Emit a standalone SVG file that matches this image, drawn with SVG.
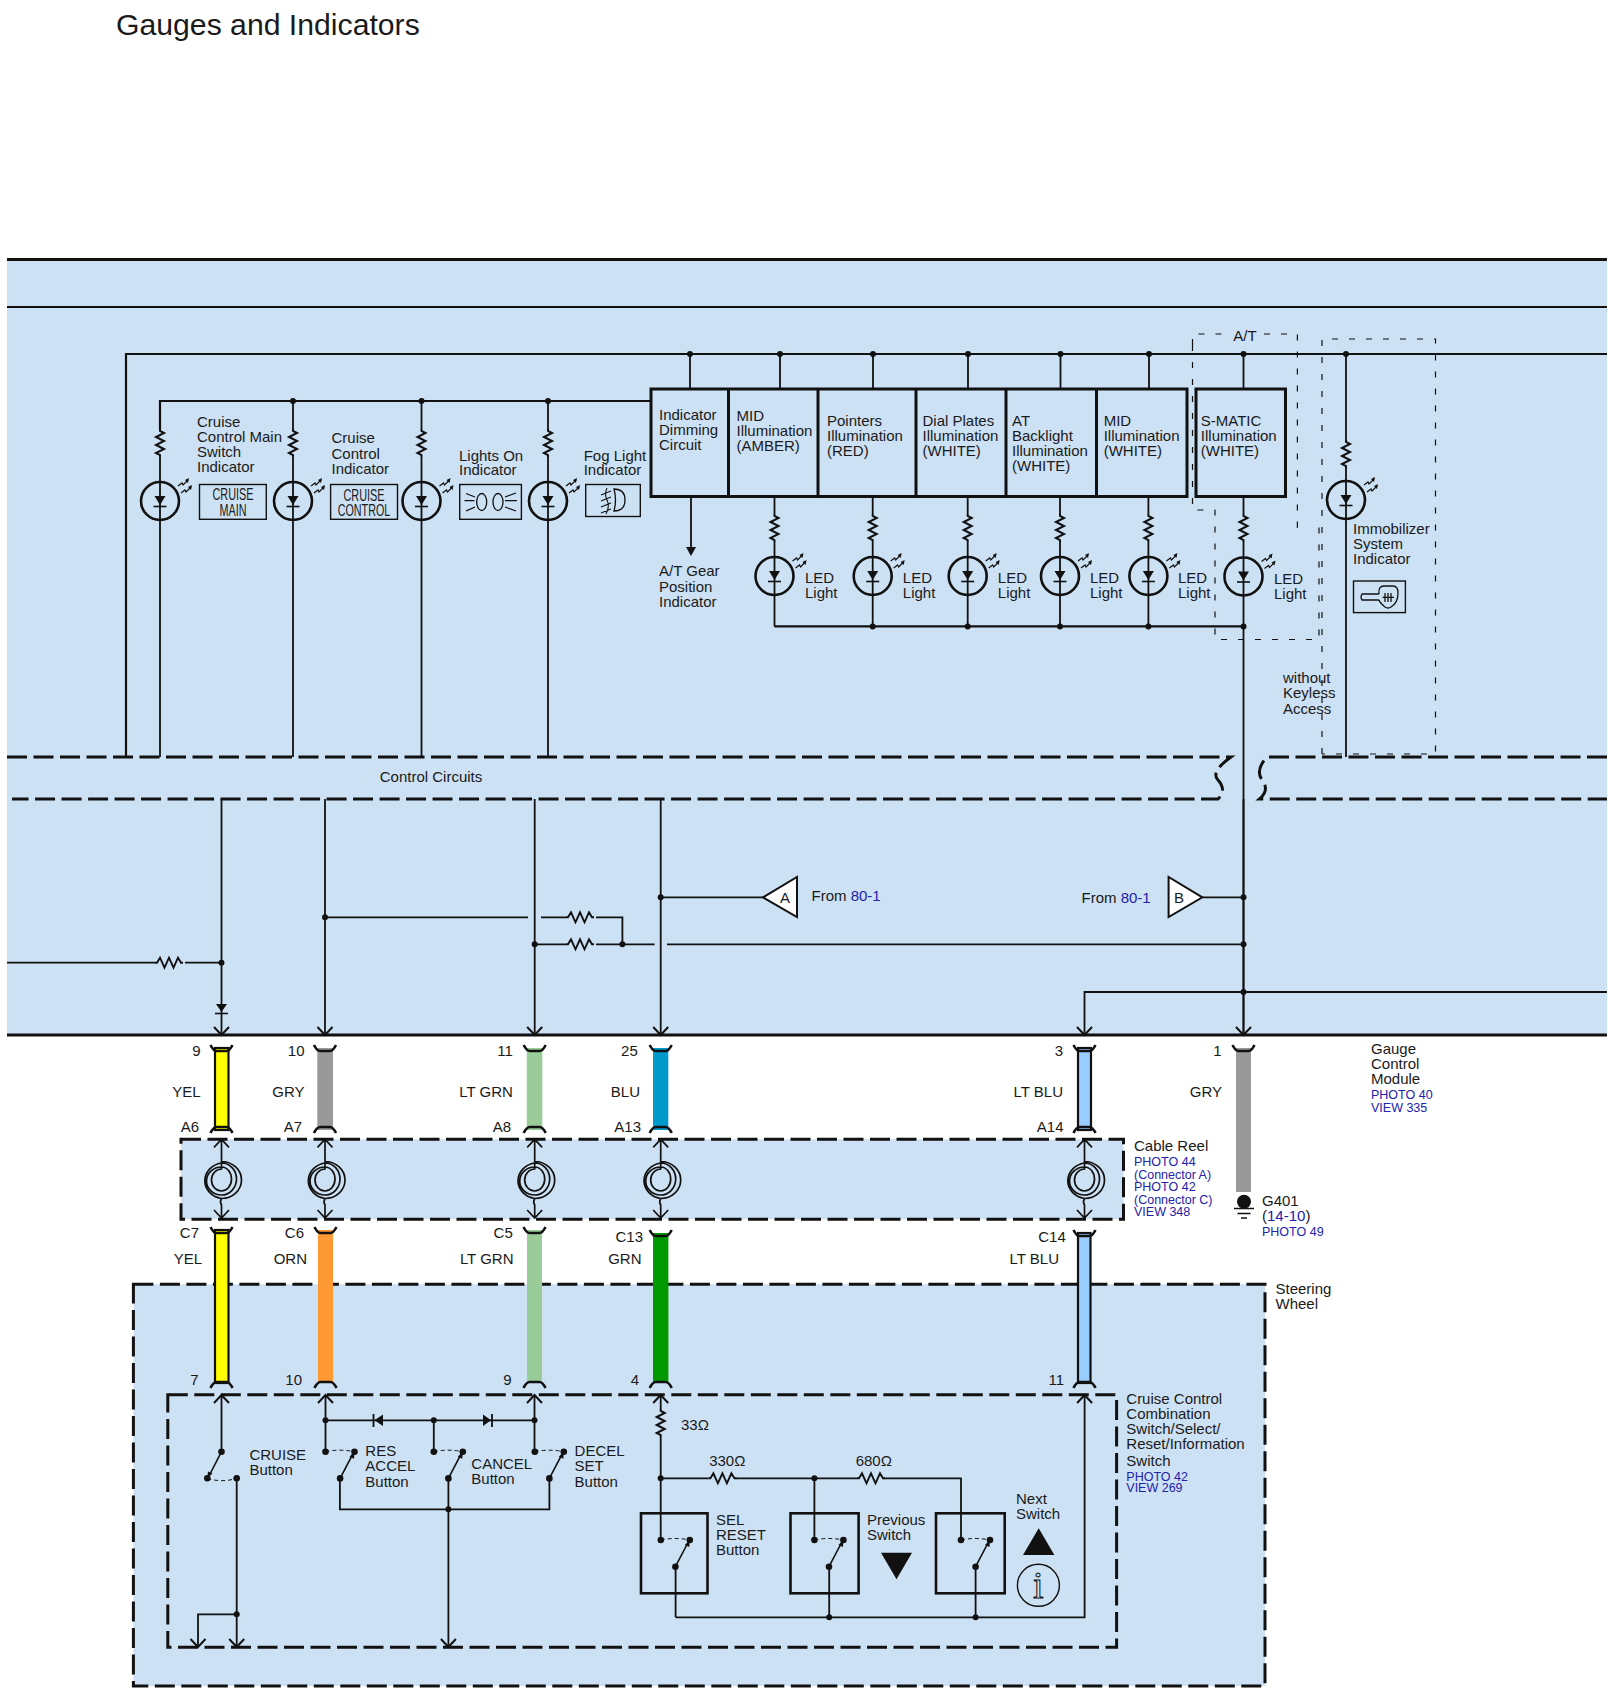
<svg xmlns="http://www.w3.org/2000/svg" xmlns:xlink="http://www.w3.org/1999/xlink" width="1614" height="1702" viewBox="0 0 1614 1702">
<style>
text{font-family:"Liberation Sans",Arial,sans-serif;font-size:15px;fill:#1a1a1a}
.blue,.blue tspan{font-size:12.5px;fill:#2222aa}
.lnk{fill:#2222aa}
.end{text-anchor:end}
.mid{text-anchor:middle}
.w{fill:none;stroke:#111;stroke-width:1.8}
.th{fill:none;stroke:#111;stroke-width:2.2}
.dash{fill:none;stroke:#111;stroke-width:3;stroke-dasharray:20 6.5}
.thin{fill:none;stroke:#111;stroke-width:1.2;stroke-dasharray:6 11}
.box{fill:none;stroke:#111;stroke-width:3}
.ibox{fill:none;stroke:#111;stroke-width:1.4}
.tint{fill:#cde1f4}
.dot{fill:#111}
.cond{font-size:16.5px}
</style>
<defs>
<marker id="v" markerUnits="userSpaceOnUse" markerWidth="20" markerHeight="20" refX="10" refY="10" orient="auto" viewBox="0 0 20 20"><path d="M2 2.5L10 10L2 17.5" fill="none" stroke="#111" stroke-width="2"/></marker>
<path id="rv" d="M0 0v2l4 2l-8 4l8 4l-8 4l8 4l-8 4l4 2v2" fill="none" stroke="#111" stroke-width="2"/>
<path id="rh" d="M0 0h2l3-5l4.500 10l4.500-10l4.500 10l4.500-10l3 5h2" fill="none" stroke="#111" stroke-width="1.900"/>
<g id="led"><circle r="19" fill="none" stroke="#111" stroke-width="2.600"/><path d="M-5.500-5H5.500L0 4Z" fill="#111"/><path d="M-6.500 5.500H6.500" stroke="#111" stroke-width="1.600"/><path d="M18-15l4-3l1 2l5-5M21-8l4-3l1 2l5-5" fill="none" stroke="#111" stroke-width="1.200"/><path d="M29-23l-1 5l-3-3ZM32-16l-1 5l-3-3Z" fill="#111"/></g>
<path id="capT" d="M-11-3Q-8 3-5 3H5Q8 3 11-3" fill="none" stroke="#111" stroke-width="2.600"/>
<path id="capB" d="M-11 3Q-8-3-5-3H5Q8-3 11 3" fill="none" stroke="#111" stroke-width="2.600"/>
<g id="reel"><path d="M0-40.700V-11A10 11 0 0 0 0 11A10 12 0 0 0 0-13A15 14 0 0 0 0 15A15 16 0 0 0 0-17A20 18 0 0 0 0 18.500A20 18.500 0 0 0 0-18.500M0 18.500Q-2 22 0 25V38M-7.500-32.700L0-40.700L7.500-32.700M-7.500 30L0 38L7.500 30" fill="none" stroke="#111" stroke-width="1.700"/></g>
<g id="sw"><path d="M0 0Q14-3 29 0" fill="none" stroke="#111" stroke-width="1" stroke-dasharray="4 3"/><path d="M14.600 26.700L27 3" fill="none" stroke="#111" stroke-width="1.600"/><path d="M29 0L28.500 7L24 5Z" fill="#111"/><circle r="3.300" class="dot"/><circle cx="29" r="3.300" class="dot"/><circle cx="14.600" cy="26.700" r="3.300" class="dot"/></g>
</defs>

<g id="panels">
<rect x="7" y="260" width="1600" height="775" class="tint"/>
<rect x="181" y="1139.300" width="942.500" height="80" class="tint"/>
<rect x="133.400" y="1284.300" width="1131.600" height="401.700" class="tint"/>
</g>

<text x="116" y="35" style="font-size:30.200px">Gauges and Indicators</text>

<g id="connectors">
<path d="M7 259.500H1607" fill="none" stroke="#111" stroke-width="3"/>
<path d="M7 307H1607" fill="none" stroke="#111" stroke-width="1.800"/>
<path class="dash" d="M7 757H1231Q1210 772 1218 780Q1227 790 1218 799H12"/>
<path class="dash" d="M1607 757H1267Q1255 770 1262 780Q1270 790 1259.500 799H1607"/>
<path d="M7 1035H1607" fill="none" stroke="#111" stroke-width="3.200"/>
<path class="th" d="M126 757V354H1607M160 429V401H651"/>
<path class="w" d="M160 457V757M293 401V429M293 457V757M421.500 401V429M421.500 457V757M548 401V429M548 457V757"/>
<path class="w" d="M690 354V389M780 354V389M873 354V389M968 354V389M1060.500 354V389M1149 354V389M1243.500 354V389M1346 354V440M1346 468V757"/>
<path class="w" d="M691 496.500V548M774.500 496.500V514M774.500 542V626.400M872.700 496.500V514M872.700 542V626.400M967.700 496.500V514M967.700 542V626.400M1060 496.500V514M1060 542V626.400M1148.400 496.500V514M1148.400 542V626.400M1243.500 496.500V514M1243.500 542V1035"/>
<path class="th" d="M774.500 626.400H1243.500"/>
<path d="M691 556L686 547H696Z" class="dot"/>
<path class="w" d="M221.500 799V1035" marker-end="url(#v)"/>
<path class="w" d="M325 799V1035" marker-end="url(#v)"/>
<path class="w" d="M534.700 799V1035" marker-end="url(#v)"/>
<path class="w" d="M660.700 799V1035" marker-end="url(#v)"/>
<path class="w" d="M1243.500 799V1035" marker-end="url(#v)"/>
<path class="w" d="M1607 992H1084.500V1035" marker-end="url(#v)"/>
<path class="w" d="M7 962.700H155M185 962.700H221.500"/>
<path class="w" d="M325 917.300H528M541 917.300H566M596 917.300H622.400V944.300M534.700 944.300H566M596 944.300H654.600M667 944.300H1243.500"/>
<path class="w" d="M660.700 897.300H763M1202.400 897.300H1243.500"/>
<path d="M216 1004H227L221.500 1012Z" class="dot"/><path d="M215 1013.500H228" stroke="#111" stroke-width="1.600"/>
<g class="dots">
<circle cx="690" cy="354" r="3" class="dot"/><circle cx="780" cy="354" r="3" class="dot"/><circle cx="873" cy="354" r="3" class="dot"/><circle cx="968" cy="354" r="3" class="dot"/><circle cx="1060.500" cy="354" r="3" class="dot"/><circle cx="1149" cy="354" r="3" class="dot"/><circle cx="1243.500" cy="354" r="3" class="dot"/><circle cx="1346" cy="354" r="3" class="dot"/>
<circle cx="293" cy="401" r="3" class="dot"/><circle cx="421.500" cy="401" r="3" class="dot"/><circle cx="548" cy="401" r="3" class="dot"/>
<circle cx="872.700" cy="626.400" r="3" class="dot"/><circle cx="967.700" cy="626.400" r="3" class="dot"/><circle cx="1060" cy="626.400" r="3" class="dot"/><circle cx="1148.400" cy="626.400" r="3" class="dot"/><circle cx="1243.500" cy="626.400" r="3" class="dot"/>
<circle cx="221.500" cy="962.700" r="3" class="dot"/><circle cx="325" cy="917.300" r="3" class="dot"/><circle cx="534.700" cy="944.300" r="3" class="dot"/><circle cx="622.400" cy="944.300" r="3" class="dot"/><circle cx="660.700" cy="897.300" r="3" class="dot"/><circle cx="1243.500" cy="897.300" r="3" class="dot"/><circle cx="1243.500" cy="944.300" r="3" class="dot"/><circle cx="1243.500" cy="992" r="3" class="dot"/>
</g>
<use href="#rh" x="155" y="962.700"/><use href="#rh" x="566" y="917.300"/><use href="#rh" x="566" y="944.300"/>
</g>

<g id="option-frames">
<path class="thin" d="M1192.500 345V334H1226M1264 334H1297.400V527.500H1302M1319 527.500V639.500H1215V510H1192.500V345"/>
<path class="thin" d="M1322 754V339H1435.500V754H1322"/>
<text x="1245" y="341" class="mid">A/T</text>
<text><tspan x="1283" y="682.500">without</tspan><tspan x="1283" y="698">Keyless</tspan><tspan x="1283" y="713.500">Access</tspan></text>
</g>

<text id="control-circuits" x="431" y="782" class="mid">Control Circuits</text>

<g id="ind-cruise-main"><use href="#rv" x="160" y="429"/><use href="#led" x="160" y="501"/>
<text><tspan x="197" y="426.500">Cruise</tspan><tspan x="197" y="442">Control Main</tspan><tspan x="197" y="457">Switch</tspan><tspan x="197" y="472">Indicator</tspan></text>
<rect x="199.500" y="484.500" width="66.800" height="34.800" class="ibox"/>
<text x="233" y="499.500" class="mid cond" textLength="41" lengthAdjust="spacingAndGlyphs">CRUISE</text><text x="233" y="515.500" class="mid cond" textLength="27" lengthAdjust="spacingAndGlyphs">MAIN</text></g>

<g id="ind-cruise-control"><use href="#rv" x="293" y="429"/><use href="#led" x="293" y="501"/>
<text><tspan x="331.500" y="443">Cruise</tspan><tspan x="331.500" y="459">Control</tspan><tspan x="331.500" y="474">Indicator</tspan></text>
<rect x="330.600" y="484.500" width="66.900" height="34.800" class="ibox"/>
<text x="364" y="500.500" class="mid cond" textLength="41" lengthAdjust="spacingAndGlyphs">CRUISE</text><text x="364" y="516" class="mid cond" textLength="52.500" lengthAdjust="spacingAndGlyphs">CONTROL</text></g>

<g id="ind-lights-on"><use href="#rv" x="421.500" y="429"/><use href="#led" x="421.500" y="501"/>
<text><tspan x="459" y="460.500">Lights On</tspan><tspan x="459" y="475">Indicator</tspan></text>
<rect x="459.700" y="484.500" width="61.700" height="34.800" class="ibox"/>
<ellipse cx="481.700" cy="502" rx="5" ry="8.500" fill="none" stroke="#111" stroke-width="1.300"/><ellipse cx="498" cy="502" rx="5" ry="8.500" fill="none" stroke="#111" stroke-width="1.300"/>
<path d="M466 493.500L475 497M464.500 500.700H474.500M466 511L475 507M505 497L516 493M505 500.700H517M505 507L516 511" fill="none" stroke="#111" stroke-width="1.300"/></g>

<g id="ind-fog"><use href="#rv" x="548" y="429"/><use href="#led" x="548" y="501"/>
<text><tspan x="583.700" y="460.500">Fog Light</tspan><tspan x="583.700" y="475">Indicator</tspan></text>
<rect x="585.700" y="484.500" width="54.600" height="32" class="ibox"/>
<path d="M614 489Q625 489 625 500Q625 511 614 511Q617 500 614 489Z" fill="none" stroke="#111" stroke-width="1.300"/>
<path d="M601 495L611 491M601 501L611 497M601 507L611 503M601 513L611 509M607 488Q604 494 607 500Q610 506 606 514" fill="none" stroke="#111" stroke-width="1.100"/></g>

<g id="module-row">
<rect x="651" y="389" width="536" height="107.500" class="box"/>
<path class="box" d="M728.500 389V496.500M818 389V496.500M916 389V496.500M1006 389V496.500M1096.500 389V496.500"/>
<g id="m-dimming"><text><tspan x="659" y="420">Indicator</tspan><tspan x="659" y="435">Dimming</tspan><tspan x="659" y="450">Circuit</tspan></text>
<text><tspan x="659" y="575.700">A/T Gear</tspan><tspan x="659" y="592">Position</tspan><tspan x="659" y="606.700">Indicator</tspan></text></g>
<g id="m-mid-amber"><text><tspan x="736.500" y="420.800">MID</tspan><tspan x="736.500" y="436">Illumination</tspan><tspan x="736.500" y="450.700">(AMBER)</tspan></text></g>
<g id="m-pointers"><text><tspan x="827" y="426">Pointers</tspan><tspan x="827" y="441">Illumination</tspan><tspan x="827" y="456">(RED)</tspan></text></g>
<g id="m-dial"><text><tspan x="922.500" y="426">Dial Plates</tspan><tspan x="922.500" y="441">Illumination</tspan><tspan x="922.500" y="456">(WHITE)</tspan></text></g>
<g id="m-at"><text><tspan x="1012" y="426">AT</tspan><tspan x="1012" y="441">Backlight</tspan><tspan x="1012" y="456">Illumination</tspan><tspan x="1012" y="470.700">(WHITE)</tspan></text></g>
<g id="m-mid-white"><text><tspan x="1103.700" y="426">MID</tspan><tspan x="1103.700" y="441">Illumination</tspan><tspan x="1103.700" y="456">(WHITE)</tspan></text></g>
</g>
<g id="m-smatic"><rect x="1196" y="389" width="89.500" height="107.500" class="box"/>
<text><tspan x="1200.800" y="426">S-MATIC</tspan><tspan x="1200.800" y="441">Illumination</tspan><tspan x="1200.800" y="456">(WHITE)</tspan></text></g>

<g id="led-1"><use href="#rv" x="774.500" y="514"/><use href="#led" x="774.500" y="576"/><text><tspan x="805" y="582.600">LED</tspan><tspan x="805" y="598">Light</tspan></text></g>
<g id="led-2"><use href="#rv" x="872.700" y="514"/><use href="#led" x="872.700" y="576"/><text><tspan x="902.800" y="582.600">LED</tspan><tspan x="902.800" y="598">Light</tspan></text></g>
<g id="led-3"><use href="#rv" x="967.700" y="514"/><use href="#led" x="967.700" y="576"/><text><tspan x="997.800" y="582.600">LED</tspan><tspan x="997.800" y="598">Light</tspan></text></g>
<g id="led-4"><use href="#rv" x="1060" y="514"/><use href="#led" x="1060" y="576"/><text><tspan x="1090" y="582.600">LED</tspan><tspan x="1090" y="598">Light</tspan></text></g>
<g id="led-5"><use href="#rv" x="1148.400" y="514"/><use href="#led" x="1148.400" y="576"/><text><tspan x="1178" y="582.600">LED</tspan><tspan x="1178" y="598">Light</tspan></text></g>
<g id="led-6"><use href="#rv" x="1243.500" y="514"/><use href="#led" x="1243.500" y="576.500"/><text><tspan x="1274" y="583.700">LED</tspan><tspan x="1274" y="599">Light</tspan></text></g>

<g id="ind-immobilizer"><use href="#rv" x="1346" y="440"/><use href="#led" x="1346" y="500"/>
<text><tspan x="1353" y="533.700">Immobilizer</tspan><tspan x="1353" y="549">System</tspan><tspan x="1353" y="563.700">Indicator</tspan></text>
<rect x="1353.500" y="581" width="51.900" height="31.600" class="ibox"/>
<path d="M1379 594H1362Q1360 597 1362 600H1379M1379 594Q1378 586 1384 586H1393Q1398 586 1398 593Q1398 603 1391 607Q1388 609 1385 607Q1380 603 1379 600" fill="none" stroke="#111" stroke-width="1.300"/>
<path d="M1382.500 597.300H1394M1385 593V602M1388 593V602M1391 593V602" fill="none" stroke="#111" stroke-width="1.300"/></g>

<g id="ref-a"><path d="M763 897.300L797 877V917Z" fill="#fff" stroke="#111" stroke-width="2"/><text x="785" y="902.500" class="mid">A</text>
<text x="811.500" y="900.700">From <tspan class="lnk">80-1</tspan></text></g>
<g id="ref-b"><path d="M1202.400 897.300L1168.600 877V917Z" fill="#fff" stroke="#111" stroke-width="2"/><text x="1179" y="902.500" class="mid">B</text>
<text x="1081.500" y="902.700">From <tspan class="lnk">80-1</tspan></text></g>

<g id="wires-upper">
<g id="pin-9"><rect x="215" y="1048" width="13.500" height="82" fill="#ffff00" stroke="#111" stroke-width="2.200"/><use href="#capT" x="221.500" y="1048"/><use href="#capB" x="221.500" y="1130"/></g>
<g id="pin-10"><rect x="317.300" y="1048" width="15.700" height="82" fill="#999"/><use href="#capT" x="325" y="1048"/><use href="#capB" x="325" y="1130"/></g>
<g id="pin-11"><rect x="526.800" y="1048" width="15.500" height="82" fill="#99cc99"/><use href="#capT" x="534.700" y="1048"/><use href="#capB" x="534.700" y="1130"/></g>
<g id="pin-25"><rect x="653" y="1048" width="15.300" height="82" fill="#0099cc"/><use href="#capT" x="660.700" y="1048"/><use href="#capB" x="660.700" y="1130"/></g>
<g id="pin-3"><rect x="1078" y="1048" width="13" height="82" fill="#99ccff" stroke="#111" stroke-width="2.200"/><use href="#capT" x="1084.500" y="1048"/><use href="#capB" x="1084.500" y="1130"/></g>
<g id="pin-1"><rect x="1236" y="1048" width="15" height="144" fill="#999"/><use href="#capT" x="1243.500" y="1048"/>
<circle cx="1244" cy="1201.700" r="7" class="dot"/><path d="M1234 1208.500H1254M1237.500 1213.500H1250.500M1241 1218H1247" stroke="#111" stroke-width="1.500"/></g>
<text x="200.500" y="1056" class="end">9</text><text x="304.500" y="1056" class="end">10</text><text x="512.800" y="1056" class="end">11</text><text x="637.800" y="1056" class="end">25</text><text x="1063" y="1056" class="end">3</text><text x="1221.500" y="1056" class="end">1</text>
<text x="200.500" y="1097.300" class="end">YEL</text><text x="304.500" y="1097.300" class="end">GRY</text><text x="512.800" y="1097.300" class="end">LT GRN</text><text x="640" y="1097.300" class="end">BLU</text><text x="1063" y="1097.300" class="end">LT BLU</text><text x="1222" y="1097.300" class="end">GRY</text>
<text x="199" y="1131.700" class="end">A6</text><text x="302" y="1131.700" class="end">A7</text><text x="511" y="1131.700" class="end">A8</text><text x="641" y="1131.700" class="end">A13</text><text x="1063.500" y="1131.700" class="end">A14</text>
</g>

<g id="gauge-label"><text><tspan x="1371" y="1054">Gauge</tspan><tspan x="1371" y="1069">Control</tspan><tspan x="1371" y="1084">Module</tspan></text>
<text class="blue"><tspan x="1371" y="1099">PHOTO 40</tspan><tspan x="1371" y="1112">VIEW 335</tspan></text></g>
<g id="g401-label"><text x="1262" y="1206">G401</text><text x="1262" y="1220.700">(<tspan class="lnk">14-10</tspan>)</text><text class="blue" x="1262" y="1235.700">PHOTO 49</text></g>

<g id="cable-reel">
<rect x="181" y="1139.300" width="942.500" height="80" fill="none" stroke="#111" stroke-width="3" stroke-dasharray="20 6.500"/>
<use href="#reel" x="221.500" y="1180"/><use href="#reel" x="325" y="1180"/><use href="#reel" x="534.700" y="1180"/><use href="#reel" x="660.700" y="1180"/><use href="#reel" x="1084.500" y="1180"/>
<text x="1134" y="1150.700">Cable Reel</text>
<text class="blue"><tspan x="1134" y="1165.700">PHOTO 44</tspan><tspan x="1134" y="1179">(Connector A)</tspan><tspan x="1134" y="1191">PHOTO 42</tspan><tspan x="1134" y="1204">(Connector C)</tspan><tspan x="1134" y="1215.700">VIEW 348</tspan></text>
</g>

<g id="steering-wheel">
<rect x="133.400" y="1284.300" width="1131.600" height="401.700" fill="none" stroke="#111" stroke-width="3" stroke-dasharray="20 6.500"/>
<rect x="167.800" y="1394.700" width="948.800" height="252.600" fill="none" stroke="#111" stroke-width="3" stroke-dasharray="20 6.500"/>
<text><tspan x="1275.500" y="1294">Steering</tspan><tspan x="1275.500" y="1309">Wheel</tspan></text>
<text><tspan x="1126.300" y="1404.300">Cruise Control</tspan><tspan x="1126.300" y="1419.300">Combination</tspan><tspan x="1126.300" y="1434.300">Switch/Select/</tspan><tspan x="1126.300" y="1449.300">Reset/Information</tspan><tspan x="1126.300" y="1465.700">Switch</tspan></text>
<text class="blue"><tspan x="1126.300" y="1480.700">PHOTO 42</tspan><tspan x="1126.300" y="1492.300">VIEW 269</tspan></text>
</g>

<g id="wires-lower">
<g id="pin-c7"><rect x="215" y="1230" width="13.500" height="153" fill="#ffff00" stroke="#111" stroke-width="2.200"/><use href="#capT" x="221.500" y="1230"/><use href="#capB" x="221.500" y="1385"/></g>
<g id="pin-c6"><rect x="318" y="1230" width="15" height="153" fill="#ff9933"/><use href="#capT" x="325.500" y="1230"/><use href="#capB" x="325.500" y="1385"/></g>
<g id="pin-c5"><rect x="527" y="1230" width="15" height="153" fill="#99cc99"/><use href="#capT" x="534.500" y="1230"/><use href="#capB" x="534.500" y="1385"/></g>
<g id="pin-c13"><rect x="653" y="1233" width="15.400" height="150" fill="#009900"/><use href="#capT" x="660.700" y="1233"/><use href="#capB" x="660.700" y="1385"/></g>
<g id="pin-c14"><rect x="1078" y="1233" width="12.500" height="150" fill="#99ccff" stroke="#111" stroke-width="2.200"/><use href="#capT" x="1084.500" y="1233"/><use href="#capB" x="1084.500" y="1385"/></g>
<text x="199" y="1238.300" class="end">C7</text><text x="304" y="1238.300" class="end">C6</text><text x="512.800" y="1238.300" class="end">C5</text><text x="643" y="1241.700" class="end">C13</text><text x="1065.800" y="1241.700" class="end">C14</text>
<text x="202" y="1264" class="end">YEL</text><text x="307" y="1264" class="end">ORN</text><text x="513.500" y="1264" class="end">LT GRN</text><text x="641.500" y="1264" class="end">GRN</text><text x="1059" y="1264" class="end">LT BLU</text>
<text x="198.500" y="1385" class="end">7</text><text x="302" y="1385" class="end">10</text><text x="511.500" y="1385" class="end">9</text><text x="639" y="1385" class="end">4</text><text x="1064" y="1385" class="end">11</text>
</g>

<g id="switch-wiring">
<path class="w" d="M221.500 1451.700V1395" marker-end="url(#v)"/>
<path class="w" d="M325.500 1451.700V1395" marker-end="url(#v)"/>
<path class="w" d="M534.500 1451.700V1395" marker-end="url(#v)"/>
<path class="w" d="M660.700 1409V1395" marker-end="url(#v)"/>
<path class="w" d="M236.700 1478.300V1647" marker-end="url(#v)"/>
<path class="w" d="M236.700 1614.300H198V1647" marker-end="url(#v)"/>
<path class="w" d="M448.400 1478.300V1647" marker-end="url(#v)"/>
<path class="w" d="M339.900 1478.300V1509.300H549.400V1478.300"/>
<path class="w" d="M325.500 1420.300H534.500M433.800 1420.300V1451.700"/>
<path d="M383 1414.500V1426L374.500 1420.300ZM483 1414.500V1426L491 1420.300Z" class="dot"/>
<path d="M373.500 1414V1427M492 1414V1427" stroke="#111" stroke-width="1.800"/>
<circle cx="325.500" cy="1420.300" r="3" class="dot"/><circle cx="433.800" cy="1420.300" r="3" class="dot"/><circle cx="534.500" cy="1420.300" r="3" class="dot"/><circle cx="448.400" cy="1509.300" r="3" class="dot"/><circle cx="236.700" cy="1614.300" r="3" class="dot"/>
<path class="w" d="M660.700 1437V1540M660.700 1478.300H708.400M735.700 1478.300H857M884 1478.300H961V1540M814.400 1478.300V1540"/>
<path class="w" d="M675.600 1566.700V1617.300M829.200 1566.700V1617.300M975.600 1566.700V1617.300"/>
<path class="w" d="M675.600 1617.300H1084.600V1395" marker-end="url(#v)"/>
<circle cx="660.700" cy="1478.300" r="3" class="dot"/><circle cx="814.400" cy="1478.300" r="3" class="dot"/><circle cx="829.200" cy="1617.300" r="3" class="dot"/><circle cx="975.600" cy="1617.300" r="3" class="dot"/>
<use href="#rv" x="660.700" y="1409"/><use href="#rh" x="708.400" y="1478.300"/><use href="#rh" x="857" y="1478.300"/>
<text x="681" y="1430">33Ω</text><text x="709.200" y="1466">330Ω</text><text x="855.700" y="1466">680Ω</text>
</g>

<g id="btn-cruise">
<path d="M207.300 1478.300Q222 1483 236.700 1478.300" fill="none" stroke="#111" stroke-width="1" stroke-dasharray="4 3"/><path d="M221.500 1451.700L209.500 1475" fill="none" stroke="#111" stroke-width="1.600"/><path d="M207.300 1478.300L208 1471.500L212.500 1473.500Z" class="dot"/>
<circle cx="221.500" cy="1451.700" r="3.300" class="dot"/><circle cx="207.300" cy="1478.300" r="3.300" class="dot"/><circle cx="236.700" cy="1478.300" r="3.300" class="dot"/>
<text><tspan x="249.400" y="1460">CRUISE</tspan><tspan x="249.400" y="1475">Button</tspan></text></g>
<g id="btn-res"><use href="#sw" x="325.500" y="1451.700"/><text><tspan x="365.300" y="1456">RES</tspan><tspan x="365.300" y="1471">ACCEL</tspan><tspan x="365.300" y="1486.700">Button</tspan></text></g>
<g id="btn-cancel"><use href="#sw" x="433.800" y="1451.700"/><text><tspan x="471.300" y="1469">CANCEL</tspan><tspan x="471.300" y="1484">Button</tspan></text></g>
<g id="btn-decel"><use href="#sw" x="534.800" y="1451.700"/><text><tspan x="574.600" y="1456">DECEL</tspan><tspan x="574.600" y="1471">SET</tspan><tspan x="574.600" y="1486.700">Button</tspan></text></g>
<g id="btn-sel"><rect x="641" y="1513.300" width="66.500" height="80" class="box" style="stroke-width:2.600"/><use href="#sw" x="660.800" y="1540"/><text><tspan x="716" y="1525">SEL</tspan><tspan x="716" y="1540">RESET</tspan><tspan x="716" y="1555">Button</tspan></text></g>
<g id="btn-prev"><rect x="790.500" y="1513.300" width="68.100" height="80" class="box" style="stroke-width:2.600"/><use href="#sw" x="814.400" y="1540"/><text><tspan x="867" y="1525">Previous</tspan><tspan x="867" y="1540">Switch</tspan></text><path d="M881 1552.700H912L896.500 1579.300Z" class="dot"/></g>
<g id="btn-next"><rect x="936" y="1513.300" width="68.700" height="80" class="box" style="stroke-width:2.600"/><use href="#sw" x="961" y="1540"/><text><tspan x="1016" y="1504.300">Next</tspan><tspan x="1016" y="1519.300">Switch</tspan></text><path d="M1023 1555H1054.400L1038.700 1528.300Z" class="dot"/><circle cx="1038.400" cy="1585.300" r="21" fill="none" stroke="#111" stroke-width="1.400"/><text x="1038.400" y="1598" class="mid" style="font-family:'Liberation Serif',serif;font-size:38px;fill:none;stroke:#111;stroke-width:1">i</text></g>
</svg>
